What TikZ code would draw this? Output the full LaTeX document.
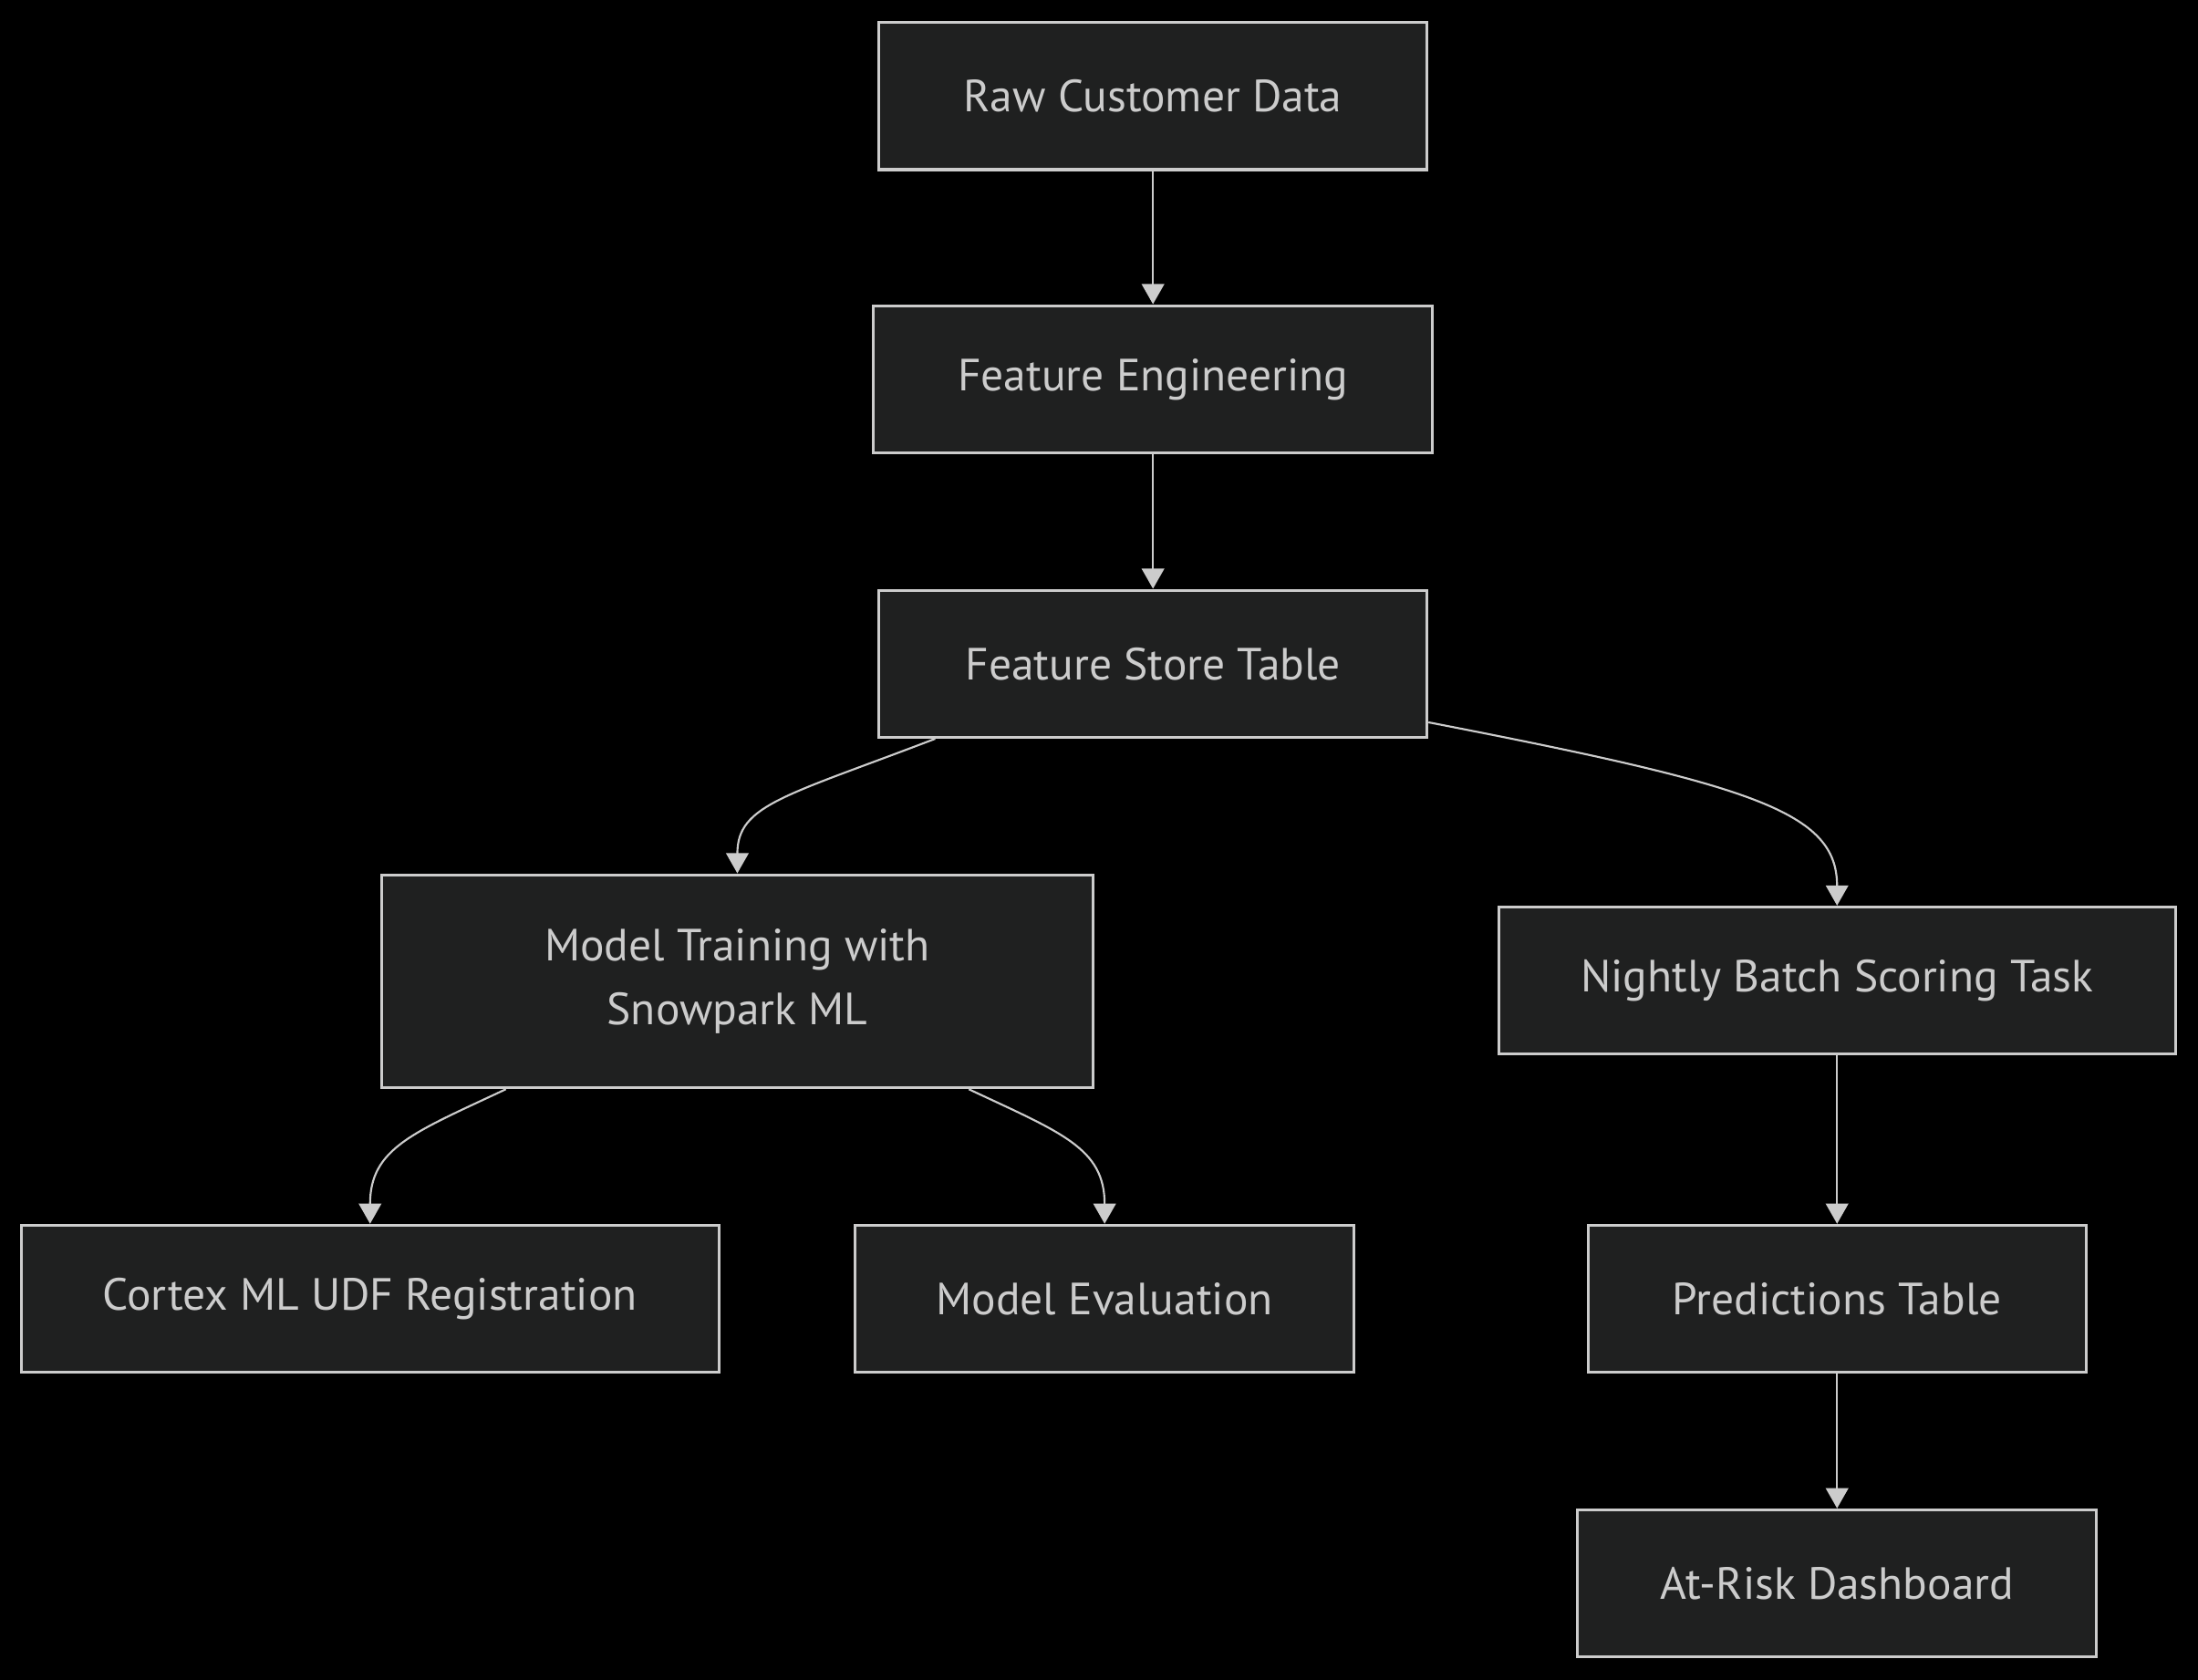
\documentclass[tikz,border=0pt]{standalone}
\usepackage{fontspec}
\setmainfont{PT Sans}
\usetikzlibrary{backgrounds,arrows.meta}
\definecolor{boxfill}{HTML}{1F2020}
\definecolor{boxline}{HTML}{CCCCCC}
\tikzset{
  dark/.style = {
    background rectangle/.style={fill=black, draw=black, line width=4pt},
    show background rectangle,
    inner frame sep=0pt
  }
}
\tikzset{>={Triangle[length=7.2pt,width=8pt]}}
\tikzset{
  box/.style = {draw=boxline, fill=boxfill, line width=1pt, text=boxline,
    minimum height=52.5pt, inner sep=0pt, align=center,
    font=\fontsize{16.1}{23}\selectfont},
  flow/.style = {->, draw=boxline, line width=0.7pt}
}

\begin{document}
\begin{tikzpicture}[dark, x=0.5pt, y=-0.5pt]
  \useasboundingbox (0,0) rectangle (1568,1198);
  % boxes
  \node[box, minimum width=195.5pt] (raw) at (822.5,68.5) {Raw Customer Data};
  \node[box, minimum width=199.5pt] (feat) at (822.5,270.5) {Feature Engineering};
  \node[box, minimum width=195.5pt] (store) at (822.5,473.5) {Feature Store Table};
  \node[box, minimum width=254pt, minimum height=76pt] (train) at (526,700)
    {Model Training with\\Snowpark ML};
  \node[box, minimum width=241.5pt] (batch) at (1310.5,699.5) {Nightly Batch Scoring Task};
  \node[box, minimum width=249pt] (udf) at (264,926.5) {Cortex ML UDF Registration};
  \node[box, minimum width=178pt] (eval) at (788,926.5) {Model Evaluation};
  \node[box, minimum width=177.5pt] (pred) at (1310.5,926.5) {Predictions Table};
  \node[box, minimum width=185pt] (dash) at (1310.5,1129.5) {At-Risk Dashboard};
  % arrows
  \draw[flow] (raw) -- (feat);
  \draw[flow] (feat) -- (store);
  \draw[flow] (store.-161) .. controls +(-107,41) and +(0,-49) .. (train.north);
  \draw[flow] (store.-12) .. controls +(232,45) and +(0,-67) .. (batch.north);
  \draw[flow] (train.-155) .. controls +(-66,31) and +(0,-54) .. (udf.north);
  \draw[flow] (train.-25) .. controls +(66,31) and +(0,-54) .. (eval.north);
  \draw[flow] (batch) -- (pred);
  \draw[flow] (pred) -- (dash);
\end{tikzpicture}
\end{document}
